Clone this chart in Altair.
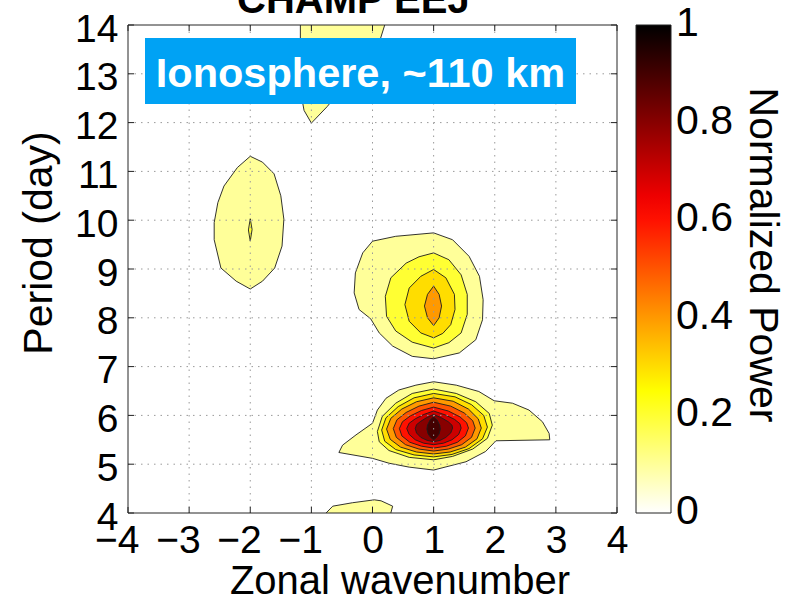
import altair as alt
import pandas as pd

FONT = "Liberation Sans"
W, H = 489, 488          # plot area in pixels
PAD = {"left": 128, "top": 25, "right": 183, "bottom": 88}

# ---------------- axis / colorbar values ----------------
x_tick_values = [-4, -3, -2, -1, 0, 1, 2, 3, 4]
y_tick_values = [4, 5, 6, 7, 8, 9, 10, 11, 12, 13, 14]
grid_x = [-3, -2, -1, 0, 1, 2, 3]
grid_y = [5, 6, 7, 8, 9, 10, 11, 12, 13]
colorbar_labels = [0, 0.2, 0.4, 0.6, 0.8, 1]
colorbar_ticks = [0.1, 0.2, 0.3, 0.4, 0.5, 0.6, 0.7, 0.8, 0.9]
cmap_stops = [0, 0.25, 0.625, 1]
cmap_colors = ["#ffffff", "#ffff00", "#ff0000", "#000000"]

# ---------------- contour polygons ----------------
# main peak, wavenumber 1, period ~5.7 d
p6_l1_x = [1.0, 1.37, 1.74, 1.99, 2.29, 2.56, 2.78, 2.89, 2.90, 2.02, 1.85, 1.53, 1.0, 0.60, 0.27, 0.0, -0.55, -0.49, -0.27, 0.0, 0.08, 0.22, 0.43, 0.71]
p6_l1_y = [6.69, 6.62, 6.49, 6.30, 6.25, 6.11, 5.87, 5.63, 5.50, 5.48, 5.26, 5.05, 4.88, 4.94, 5.02, 5.12, 5.24, 5.39, 5.60, 5.84, 6.11, 6.35, 6.52, 6.62]
p6_l2_x = [1.0, 1.37, 1.69, 1.91, 1.96, 1.88, 1.64, 1.31, 1.0, 0.60, 0.27, 0.11, 0.08, 0.16, 0.38, 0.65]
p6_l2_y = [6.54, 6.45, 6.28, 6.04, 5.80, 5.53, 5.31, 5.16, 5.09, 5.14, 5.28, 5.46, 5.67, 5.98, 6.25, 6.45]
p6_l3_x = [1.0, 1.35, 1.62, 1.82, 1.88, 1.80, 1.58, 1.30, 1.0, 0.68, 0.38, 0.20, 0.15, 0.22, 0.42, 0.68]
p6_l3_y = [6.45, 6.38, 6.22, 6.00, 5.76, 5.52, 5.32, 5.20, 5.15, 5.19, 5.30, 5.47, 5.70, 5.95, 6.18, 6.36]
p6_l4_x = [1.0, 1.32, 1.57, 1.73, 1.78, 1.71, 1.52, 1.27, 1.0, 0.72, 0.46, 0.29, 0.23, 0.30, 0.48, 0.72]
p6_l4_y = [6.36, 6.29, 6.13, 5.93, 5.74, 5.52, 5.35, 5.25, 5.21, 5.25, 5.35, 5.51, 5.72, 5.94, 6.13, 6.28]
p6_l5_x = [1.0, 1.28, 1.50, 1.64, 1.68, 1.62, 1.46, 1.24, 1.0, 0.76, 0.54, 0.39, 0.34, 0.40, 0.55, 0.76]
p6_l5_y = [6.27, 6.19, 6.05, 5.89, 5.74, 5.55, 5.40, 5.31, 5.27, 5.31, 5.40, 5.55, 5.73, 5.91, 6.06, 6.19]
p6_l6_x = [1.0, 1.24, 1.43, 1.54, 1.57, 1.52, 1.39, 1.21, 1.0, 0.80, 0.61, 0.48, 0.44, 0.49, 0.62, 0.80]
p6_l6_y = [6.17, 6.09, 5.97, 5.85, 5.74, 5.58, 5.45, 5.37, 5.33, 5.37, 5.45, 5.58, 5.73, 5.87, 5.99, 6.10]
p6_l7_x = [1.0, 1.19, 1.34, 1.43, 1.45, 1.41, 1.30, 1.16, 1.0, 0.84, 0.70, 0.60, 0.56, 0.60, 0.70, 0.84]
p6_l7_y = [6.09, 6.01, 5.92, 5.83, 5.74, 5.61, 5.50, 5.43, 5.40, 5.43, 5.50, 5.61, 5.73, 5.84, 5.93, 6.02]
p6_l8_x = [1.0, 1.13, 1.24, 1.30, 1.31, 1.28, 1.20, 1.11, 1.0, 0.89, 0.79, 0.72, 0.70, 0.72, 0.79, 0.88]
p6_l8_y = [6.02, 5.95, 5.87, 5.80, 5.74, 5.64, 5.55, 5.49, 5.46, 5.49, 5.55, 5.64, 5.73, 5.81, 5.88, 5.95]
p6_l9_x = [1.0, 1.06, 1.10, 1.11, 1.09, 1.05, 1.0, 0.95, 0.91, 0.89, 0.90, 0.94]
p6_l9_y = [5.97, 5.90, 5.80, 5.72, 5.62, 5.55, 5.50, 5.55, 5.62, 5.72, 5.80, 5.90]

# second peak, wavenumber 1, period ~8.3 d
p8_l1_x = [1.0, 1.31, 1.58, 1.75, 1.81, 1.80, 1.69, 1.42, 1.0, 0.65, 0.33, 0.11, -0.03, -0.22, -0.30, -0.28, -0.16, 0.0, 0.38]
p8_l1_y = [9.74, 9.60, 9.26, 8.85, 8.37, 7.96, 7.55, 7.28, 7.16, 7.21, 7.42, 7.69, 7.98, 8.17, 8.51, 8.92, 9.33, 9.57, 9.67]
p8_l2_x = [1.0, 1.25, 1.45, 1.55, 1.55, 1.45, 1.25, 1.0, 0.65, 0.38, 0.23, 0.21, 0.30, 0.55, 0.76]
p8_l2_y = [9.33, 9.19, 8.88, 8.48, 8.07, 7.69, 7.49, 7.38, 7.50, 7.73, 8.03, 8.44, 8.82, 9.12, 9.25]
p8_l3_x = [1.0, 1.20, 1.34, 1.35, 1.28, 1.15, 1.0, 0.79, 0.60, 0.53, 0.60, 0.79]
p8_l3_y = [8.99, 8.82, 8.48, 8.17, 7.86, 7.68, 7.59, 7.69, 7.93, 8.27, 8.61, 8.85]
p8_l4_x = [1.0, 1.09, 1.13, 1.09, 1.0, 0.90, 0.85, 0.90]
p8_l4_y = [8.65, 8.48, 8.24, 8.00, 7.84, 8.00, 8.24, 8.48]

# peak at wavenumber -2, period ~10 d
p10_l1_x = [-2.0, -1.80, -1.61, -1.50, -1.45, -1.48, -1.60, -1.80, -2.0, -2.23, -2.48, -2.59, -2.59, -2.53, -2.43, -2.21]
p10_l1_y = [11.31, 11.19, 10.95, 10.50, 10.02, 9.47, 9.02, 8.75, 8.59, 8.75, 9.02, 9.60, 9.95, 10.36, 10.70, 11.08]
p10_l2_x = [-2.0, -1.97, -2.0, -2.03]
p10_l2_y = [10.03, 9.81, 9.57, 9.80]

# blob leaving the top edge near wavenumber -1
top_l1_x = [-1.18, 0.25, 0.20, 0.10, -0.20, -0.50, -0.74, -1.00, -1.12, -1.17, -1.18]
top_l1_y = [14.30, 14.30, 14.00, 13.60, 13.10, 12.70, 12.33, 11.99, 12.25, 12.60, 13.20]

# blob on the bottom edge near wavenumber 0
bot_l1_x = [-0.80, -0.76, -0.65, -0.33, 0.03, 0.14, 0.33, 0.30, 0.29]
bot_l1_y = [3.90, 4.00, 4.14, 4.21, 4.27, 4.25, 4.14, 4.00, 3.90]

contours = [
    (0.1, p6_l1_x, p6_l1_y), (0.1, p8_l1_x, p8_l1_y), (0.1, p10_l1_x, p10_l1_y),
    (0.1, top_l1_x, top_l1_y), (0.1, bot_l1_x, bot_l1_y),
    (0.2, p6_l2_x, p6_l2_y), (0.2, p8_l2_x, p8_l2_y), (0.2, p10_l2_x, p10_l2_y),
    (0.3, p6_l3_x, p6_l3_y), (0.3, p8_l3_x, p8_l3_y),
    (0.4, p6_l4_x, p6_l4_y), (0.4, p8_l4_x, p8_l4_y),
    (0.5, p6_l5_x, p6_l5_y),
    (0.6, p6_l6_x, p6_l6_y),
    (0.7, p6_l7_x, p6_l7_y),
    (0.8, p6_l8_x, p6_l8_y),
    (0.9, p6_l9_x, p6_l9_y),
]

rows = []
for k, (lev, xs, ys) in enumerate(contours):
    for i, (xv, yv) in enumerate(zip(xs, ys)):
        rows.append({"poly": f"c{k:02d}", "level": lev, "i": i, "x": xv, "y": yv})
contour_df = pd.DataFrame(rows)

# ---------------- scales / guides ----------------
x_scale = alt.Scale(domain=[-4, 4], nice=False, zero=False)
y_scale = alt.Scale(domain=[4, 14], nice=False, zero=False)
color_scale = alt.Scale(domain=cmap_stops, range=cmap_colors, interpolate="rgb")

CB_X0, CB_X1 = 508, 543

x_axis = alt.Axis(values=x_tick_values, format="d", labelFont=FONT, labelFontSize=39,
                  labelColor="black", labelAlign="right", labelOffset=11, labelPadding=39,
                  labelBaseline="alphabetic", labelFlush=False, labelOverlap=False,
                  ticks=False, tickSize=0, domain=False, grid=False, title=None)
y_axis = alt.Axis(values=y_tick_values, format="d", labelFont=FONT, labelFontSize=39,
                  labelColor="black", labelPadding=10, labelOffset=16,
                  labelBaseline="alphabetic", labelFlush=False, labelOverlap=False,
                  ticks=False, tickSize=0, domain=False, grid=False, title=None)
cb_legend = alt.Legend(orient="none", legendX=CB_X0, legendY=0, direction="vertical",
                       gradientLength=H, gradientThickness=CB_X1 - CB_X0, title=None,
                       labelOpacity=0, labelFontSize=1, gradientStrokeColor="#222222",
                       gradientStrokeWidth=1, padding=0)

fills = alt.Chart(contour_df).mark_line(
    clip=True, stroke="#1c1c1c", strokeWidth=0.9, strokeJoin="round", interpolate="linear-closed"
).encode(
    x=alt.X("x:Q", scale=x_scale, axis=x_axis),
    y=alt.Y("y:Q", scale=y_scale, axis=y_axis),
    detail="poly:N",
    order="i:Q",
    fill=alt.Fill("level:Q", scale=color_scale, legend=cb_legend),
)

grid_style = dict(stroke="#9a9a9a", strokeWidth=1, strokeDash=[1.5, 5])
gx = alt.Chart(pd.DataFrame({"x": grid_x})).mark_rule(**grid_style).encode(
    x=alt.X("x:Q", scale=x_scale, axis=x_axis))
gy = alt.Chart(pd.DataFrame({"y": grid_y})).mark_rule(**grid_style).encode(
    y=alt.Y("y:Q", scale=y_scale, axis=y_axis))

tick_style = dict(stroke="#222222", strokeWidth=1)
xt_df = pd.DataFrame({"x": x_tick_values})
yt_df = pd.DataFrame({"y": y_tick_values})
t_bottom = alt.Chart(xt_df).mark_rule(**tick_style).encode(
    x=alt.X("x:Q", scale=x_scale, axis=x_axis), y=alt.value(H), y2=alt.value(H - 6))
t_top = alt.Chart(xt_df).mark_rule(**tick_style).encode(
    x=alt.X("x:Q", scale=x_scale, axis=x_axis), y=alt.value(0), y2=alt.value(6))
t_left = alt.Chart(yt_df).mark_rule(**tick_style).encode(
    y=alt.Y("y:Q", scale=y_scale, axis=y_axis), x=alt.value(0), x2=alt.value(6))
t_right = alt.Chart(yt_df).mark_rule(**tick_style).encode(
    y=alt.Y("y:Q", scale=y_scale, axis=y_axis), x=alt.value(W), x2=alt.value(W - 6))

# colorbar ticks and labels (colorbar spans the same height as the plot: 0..1 -> 4..14)
cb_df = pd.DataFrame({"v": colorbar_ticks})
cb_left = alt.Chart(cb_df).transform_calculate(y="4 + 10 * datum.v").mark_rule(**tick_style).encode(
    y=alt.Y("y:Q", scale=y_scale, axis=y_axis), x=alt.value(CB_X0), x2=alt.value(CB_X0 + 5))
cb_right = alt.Chart(cb_df).transform_calculate(y="4 + 10 * datum.v").mark_rule(**tick_style).encode(
    y=alt.Y("y:Q", scale=y_scale, axis=y_axis), x=alt.value(CB_X1 - 5), x2=alt.value(CB_X1))
cb_text = alt.Chart(pd.DataFrame({"v": colorbar_labels})).transform_calculate(
    y="4 + 10 * datum.v"
).mark_text(font=FONT, fontSize=41, color="black", align="left", baseline="alphabetic", dy=11).encode(
    y=alt.Y("y:Q", scale=y_scale, axis=y_axis), x=alt.value(CB_X1 + 5),
    text=alt.Text("v:Q", format="~g"))

frame = alt.Chart(pd.DataFrame({"a": [0]})).mark_rect(
    fillOpacity=0, stroke="#262626", strokeWidth=1
).encode(x=alt.value(0), x2=alt.value(W), y=alt.value(0), y2=alt.value(H))

box = alt.Chart(pd.DataFrame({"a": [0]})).mark_rect(fill="#00A2F4").encode(
    x=alt.value(17), x2=alt.value(448), y=alt.value(13), y2=alt.value(79))


def label(text, x, y, size, weight="normal", color="black", angle=0, align="center"):
    return alt.Chart(pd.DataFrame({"t": [text]})).mark_text(
        font=FONT, fontSize=size, fontWeight=weight, color=color, angle=angle,
        align=align, baseline="alphabetic"
    ).encode(x=alt.value(x), y=alt.value(y), text="t:N")


box_text = label("Ionosphere, ~110 km", 232.5, 62, 41.5, weight="bold", color="white")
title = label("CHAMP EEJ", 109, -12, 40, weight="bold", align="left")
x_title = label("Zonal wavenumber", 272, 569, 40)
y_title = label("Period (day)", -76, 218, 41, angle=270)
cb_title = label("Normalized Power", 622, 230, 41, angle=90)

chart = alt.layer(
    fills, gx, gy, t_bottom, t_top, t_left, t_right, box, box_text, frame,
    cb_left, cb_right, cb_text, title, x_title, y_title, cb_title
).properties(
    width=W, height=H, padding=PAD, autosize=alt.AutoSizeParams(type="none"),
    background="white"
).configure_view(stroke=None)

chart.save("out.html", embed_options={"renderer": "svg", "actions": False})
